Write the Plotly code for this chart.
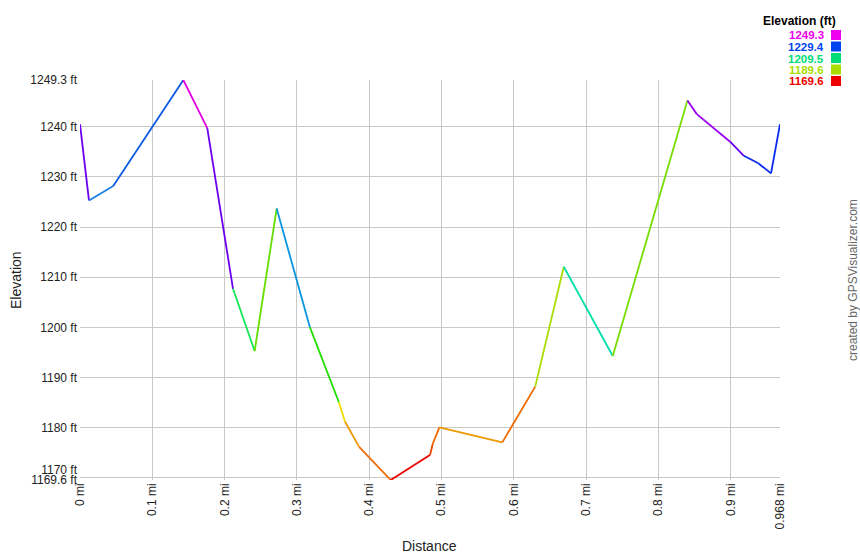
import plotly.graph_objects as go

# Track profile (distance in miles, elevation in feet)
dist = [0.0, 0.0124, 0.046, 0.1429, 0.176, 0.2116, 0.2415, 0.272, 0.318, 0.358,
        0.3665, 0.386, 0.4297, 0.484, 0.488, 0.497, 0.584, 0.6295, 0.669, 0.7367,
        0.840, 0.853, 0.899, 0.918, 0.938, 0.9556, 0.968]
elev = [1240.5, 1225.3, 1228.2, 1249.3, 1239.7, 1207.7, 1195.3, 1223.7, 1200.0, 1185.1,
        1181.2, 1176.2, 1169.6, 1174.6, 1176.9, 1180.1, 1177.1, 1188.2, 1212.1, 1194.3,
        1245.2, 1242.5, 1237.0, 1234.2, 1232.7, 1230.7, 1240.5]
seg_colors = ["#6a00ee", "#1a80e6", "#0a5ae6", "#e000e0", "#6a00ee", "#11e855", "#66dd00",
              "#0a95e0", "#22dd00", "#eedd00", "#ee9900", "#ee6a00", "#ee0000", "#ee4400",
              "#ee6a00", "#ee9900", "#ee6a00", "#aadd00", "#00e0a8", "#77dd00", "#9a00ee",
              "#9a00ee", "#6600ee", "#0a2aee", "#0a2aee", "#0a2aee"]

x_ticks = [0, 0.1, 0.2, 0.3, 0.4, 0.5, 0.6, 0.7, 0.8, 0.9, 0.968]
x_labels = ["0 mi", "0.1 mi", "0.2 mi", "0.3 mi", "0.4 mi", "0.5 mi", "0.6 mi",
            "0.7 mi", "0.8 mi", "0.9 mi", "0.968 mi"]
y_ticks = [1169.6, 1170, 1180, 1190, 1200, 1210, 1220, 1230, 1240, 1249.3]
y_labels = ["1169.6 ft", "1170 ft<br> ", "1180 ft", "1190 ft", "1200 ft", "1210 ft",
            "1220 ft", "1230 ft", "1240 ft", "1249.3 ft"]

legend_title = "Elevation (ft)"
legend_values = ["1249.3", "1229.4", "1209.5", "1189.6", "1169.6"]
legend_colors = ["#ee00ee", "#0044ee", "#00dd77", "#aadd00", "#ee0000"]

FONT = "Liberation Sans, Arial, sans-serif"

fig = go.Figure()
for i, c in enumerate(seg_colors):
    fig.add_trace(go.Scatter(
        x=dist[i:i + 2], y=elev[i:i + 2], mode="lines",
        line=dict(color=c, width=1.8), hoverinfo="x+y", showlegend=False))

annotations = [
    dict(text="<b>" + legend_title + "</b>", x=838, y=21,
         showarrow=False, xanchor="right", yanchor="middle",
         font=dict(size=12, color="#000000", family=FONT)),
    dict(text="created by GPSVisualizer.com", x=853, y=280, textangle=-90,
         showarrow=False, xanchor="center", yanchor="middle",
         font=dict(size=12, color="#666666", family=FONT)),
    dict(text="Distance", x=429, y=546, showarrow=False, xanchor="center", yanchor="middle",
         font=dict(size=14, color="#222222", family=FONT)),
    dict(text="Elevation", x=16, y=280, textangle=-90, showarrow=False,
         xanchor="center", yanchor="middle",
         font=dict(size=14, color="#222222", family=FONT)),
]
shapes = []
for k, (v, c) in enumerate(zip(legend_values, legend_colors)):
    ypx = 35 + k * 11.5
    annotations.append(dict(text="<b>" + v + "</b>", x=826, y=ypx, showarrow=False,
                            xanchor="right", yanchor="middle", height=11, valign="middle",
                            font=dict(size=11.5, color=c, family=FONT)))
    shapes.append(dict(type="rect", x0=831, x1=841, y0=ypx - 5, y1=ypx + 5,
                       fillcolor=c, line=dict(width=0)))

# convert pixel positions to paper coordinates (plot area 80..780 x 80..480)
for a in annotations:
    a["x"] = (a["x"] - 80) / 700
    a["y"] = (480 - a["y"]) / 400
    a["xref"] = "paper"
    a["yref"] = "paper"
for s in shapes:
    s["x0"] = (s["x0"] - 80) / 700
    s["x1"] = (s["x1"] - 80) / 700
    y0, y1 = s["y0"], s["y1"]
    s["y0"] = (480 - y1) / 400
    s["y1"] = (480 - y0) / 400
    s["xref"] = "paper"
    s["yref"] = "paper"

fig.update_layout(
    width=860, height=560,
    margin=dict(l=80, r=80, t=80, b=80, autoexpand=False),
    paper_bgcolor="white", plot_bgcolor="white",
    font=dict(family=FONT, size=12, color="#222222"),
    annotations=annotations, shapes=shapes,
    xaxis=dict(range=[0, 0.968], tickvals=x_ticks, ticktext=x_labels, tickangle=-90,
               showgrid=True, gridcolor="#c8c8c8", gridwidth=1, zeroline=False,
               showline=False, ticks="", automargin=False),
    yaxis=dict(range=[1169.6, 1249.3], tickvals=y_ticks, ticktext=y_labels,
               showgrid=True, gridcolor="#c8c8c8", gridwidth=1, zeroline=False,
               showline=False, ticks="", automargin=False, ticklabelstandoff=2),
)

fig.write_html("out.html", config={"displayModeBar": False},
               post_script="document.body.style.margin='0';document.body.style.overflow='hidden';")
